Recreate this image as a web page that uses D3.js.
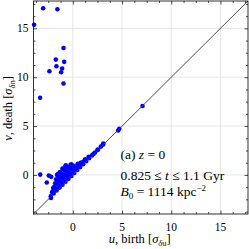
<!DOCTYPE html>
<html>
<head>
<meta charset="utf-8">
<script src="https://cdn.jsdelivr.net/npm/d3@7"></script>
<style>
  body { margin: 0; background: #fff; }
  svg { display: block; }
  text { font-family: "Liberation Serif", "DejaVu Serif", serif; fill: #000; }
</style>
</head>
<body>
<svg id="chart" width="249" height="249"></svg>
<script>
'use strict';

// axis limits and ticks (same for both axes, sigma units)
const axisDomain = [-4, 17.8];
const majorTicks = [0, 5, 10, 15];
const minorTicks = [-3.75, -2.5, -1.25, 1.25, 2.5, 3.75, 6.25, 7.5, 8.75, 11.25, 12.5, 13.75, 16.25, 17.5];

// isolated points far from the diagonal
const birthOut = [-3.02, -1.57, -3.94, -0.95, -1.73, -0.88, -1.67, -1.09, -2.38, -1.19, -0.95, -3.33,
                  -3.32, -2.45, -2.2, -2.65, -2.0, -2.1, -2.22, -0.17, 4.6, 4.72, 7.08];
const deathOut = [17.06, 16.96, 15.36, 12.99, 11.8, 11.57, 11.12, 10.89, 10.61, 10.51, 9.36, 7.9,
                  0.03, -0.07, -0.2, -0.77, -1.34, -1.78, -2.36, 1.09, 4.55, 4.72, 7.05];

// dense group hugging the diagonal
const birthCore = [
  -2.25, -1.95, -1.65, -1.35, -1.05, -0.75, -0.45, -0.15, 0.15, 0.45, 0.75, 1.05, 1.35, 1.65, 1.95, 2.25, 2.55, 2.85, 3.05,
  -2.05, -1.75, -1.45, -1.15, -0.85, -0.55, -0.25, 0.05, 0.35, 0.65, 0.95, 1.25,
  -1.9, -1.6, -1.3, -1.0, -0.7, -0.4, -0.1, 0.2, 0.5,
  -1.8, -1.5, -1.2, -0.9, -0.6, -0.3, 0.0,
  -1.7, -1.4, -1.1, -0.8, -0.5, -0.25,
  -1.6, -1.3, -1.0, -0.75,
  -1.5, -1.05, -0.72, 0.47, 0.8, 1.2, 1.6, 2.1, 2.5, 3.1
];
const deathCore = [
  -2.2, -1.9, -1.6, -1.3, -1.0, -0.7, -0.4, -0.1, 0.2, 0.5, 0.8, 1.1, 1.4, 1.7, 2.0, 2.3, 2.6, 2.9, 3.1,
  -1.7, -1.4, -1.1, -0.8, -0.5, -0.2, 0.1, 0.4, 0.7, 1.0, 1.3, 1.6,
  -1.25, -0.95, -0.65, -0.35, -0.05, 0.25, 0.55, 0.85, 1.15,
  -0.85, -0.55, -0.25, 0.05, 0.35, 0.65, 0.95,
  -0.45, -0.15, 0.15, 0.45, 0.75, 1.0,
  0.0, 0.3, 0.6, 0.85,
  0.12, 0.66, 0.98, 1.0, 1.25, 1.5, 1.85, 2.15, 2.55, 3.2
];

const box = { left: 33.5, right: 248, top: 1, bottom: 214 };

const svg = d3.select('#chart');

const x = d3.scaleLinear().domain(axisDomain).range([box.left, box.right]);
const y = d3.scaleLinear().domain(axisDomain).range([box.bottom, box.top]);

// grid
const grid = svg.append('g').attr('stroke', '#e3e3e3').attr('stroke-width', 0.9);
grid.selectAll('.gx').data(majorTicks).enter().append('line')
    .attr('x1', d => x(d)).attr('x2', d => x(d))
    .attr('y1', box.top).attr('y2', box.bottom);
grid.selectAll('.gy').data(majorTicks).enter().append('line')
    .attr('y1', d => y(d)).attr('y2', d => y(d))
    .attr('x1', box.left).attr('x2', box.right);

// points
const pts = d3.zip(birthOut.concat(birthCore), deathOut.concat(deathCore));
svg.append('g').selectAll('circle').data(pts).enter().append('circle')
    .attr('cx', d => x(d[0]))
    .attr('cy', d => y(d[1]))
    .attr('r', 2.3)
    .attr('fill', '#0000ff');

// one-to-one line
svg.append('path')
    .datum(axisDomain)
    .attr('d', d3.line().x(d => x(d)).y(d => y(d)))
    .attr('stroke', '#3a3a3a').attr('stroke-width', 0.9).attr('fill', 'none');

// axes: ticks inward on all four sides, labels drawn separately
function styleAxis(g) {
  g.select('.domain').remove();
  g.selectAll('text').remove();
  g.selectAll('line').attr('stroke', '#000').attr('stroke-width', 0.7);
}
const sides = [
  [d3.axisBottom(x), `translate(0,${box.bottom})`],
  [d3.axisTop(x), `translate(0,${box.top})`],
  [d3.axisLeft(y), `translate(${box.left},0)`],
  [d3.axisRight(y), `translate(${box.right},0)`]
];
sides.forEach(([ax, tr]) => {
  svg.append('g').attr('transform', tr).call(ax.tickValues(majorTicks).tickSize(-3.5)).call(styleAxis);
  svg.append('g').attr('transform', tr).call(ax.tickValues(minorTicks).tickSize(-2)).call(styleAxis);
});

svg.append('g').selectAll('text').data(majorTicks).enter().append('text')
    .attr('x', d => x(d)).attr('y', 231)
    .attr('text-anchor', 'middle').attr('font-size', 11.5)
    .text(d => d);
svg.append('g').selectAll('text').data(majorTicks).enter().append('text')
    .attr('x', box.left - 5).attr('y', d => y(d) + 4)
    .attr('text-anchor', 'end').attr('font-size', 11.5)
    .text(d => d);

// frame
svg.append('rect')
    .attr('x', box.left).attr('y', box.top)
    .attr('width', box.right - box.left).attr('height', box.bottom - box.top)
    .attr('fill', 'none').attr('stroke', '#000').attr('stroke-width', 0.8);

// axis labels
const xl = svg.append('text').attr('x', (box.left + box.right) / 2 - 1).attr('y', 243)
    .attr('text-anchor', 'middle').attr('font-size', 12.5);
xl.append('tspan').attr('font-style', 'italic').text('u');
xl.append('tspan').text(', birth [');
xl.append('tspan').attr('font-style', 'italic').text('σ');
xl.append('tspan').attr('font-style', 'italic').attr('font-size', 8.5).attr('dy', 3).text('δ');
xl.append('tspan').attr('font-size', 8.5).text('u');
xl.append('tspan').attr('dy', -3).text(']');

const yl = svg.append('text')
    .attr('transform', `translate(12,${(box.top + box.bottom) / 2 + 1}) rotate(-90)`)
    .attr('text-anchor', 'middle').attr('font-size', 12.5);
yl.append('tspan').attr('font-style', 'italic').text('v');
yl.append('tspan').text(', death [');
yl.append('tspan').attr('font-style', 'italic').text('σ');
yl.append('tspan').attr('font-style', 'italic').attr('font-size', 8.5).attr('dy', 3).text('δ');
yl.append('tspan').attr('font-size', 8.5).text('n');
yl.append('tspan').attr('dy', -3).text(']');

// annotation
const ann = svg.append('g').attr('font-size', 13.5);
const a1 = ann.append('text').attr('x', 120.5).attr('y', 159);
a1.append('tspan').text('(a) ');
a1.append('tspan').attr('font-style', 'italic').text('z');
a1.append('tspan').text(' = 0');
const a2 = ann.append('text').attr('x', 120.5).attr('y', 179.5);
a2.append('tspan').text('0.825 ≤ ');
a2.append('tspan').attr('font-style', 'italic').text('t');
a2.append('tspan').text(' ≤ 1.1 Gyr');
const a3 = ann.append('text').attr('x', 120.5).attr('y', 196);
a3.append('tspan').attr('font-style', 'italic').text('B');
a3.append('tspan').attr('font-size', 9).attr('dy', 2.5).text('0');
a3.append('tspan').attr('dy', -2.5).text(' = 1114 kpc');
a3.append('tspan').attr('font-size', 9).attr('dy', -5.5).text('−2');
</script>
</body>
</html>
